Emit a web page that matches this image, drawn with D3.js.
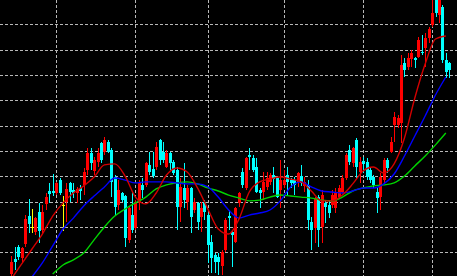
<!DOCTYPE html>
<html>
<head>
<meta charset="utf-8">
<script src="https://cdn.jsdelivr.net/npm/d3@7"></script>
<style>
  html, body { margin: 0; padding: 0; background: #000; overflow: hidden; }
  #chart { width: 457px; height: 276px; }
  svg { display: block; }
</style>
</head>
<body>
<div id="chart"></div>
<script>
////////////////////////////////////////////////////////////////////
////////////////////////////  Data  ////////////////////////////////
// one entry per bar, bar 1 is the first one on screen
const opens = [
  99.14, 99.74, 100.22, 99.76, 100.33, 101.43, 101.01, 100.81, 101.60, 100.88,
  101.91, 102.43, 102.42, 102.35, 102.85, 101.85, 102.00, 102.72, 102.46, 102.33,
  102.53, 102.66, 103.25, 103.91, 103.22, 103.58, 104.30, 103.97, 104.37, 104.04,
  102.98, 101.87, 102.33, 102.22, 100.49, 101.47, 100.95, 101.93, 102.66, 102.66,
  103.45, 103.28, 103.38, 104.43, 103.97, 103.38, 103.91, 103.58, 103.25, 101.80,
  102.53, 102.00, 102.53, 101.67, 101.93, 101.41, 102.00, 101.47, 100.42, 99.89,
  99.83, 99.46, 100.09, 101.43, 100.81, 100.42, 101.96, 103.18, 102.53, 103.84,
  103.71, 103.38, 102.46, 102.39, 102.59, 102.79, 103.05, 102.92, 102.46, 102.66,
  103.05, 102.85, 102.85, 102.79, 103.01, 102.62, 102.66, 101.21, 100.95, 102.19,
  101.01, 101.96, 101.87, 101.87, 101.75, 102.18, 102.39, 102.92, 104.04, 103.51,
  104.43, 103.18, 103.60, 103.58, 103.25, 102.98, 102.39, 102.19, 102.85, 103.64,
  103.97, 105.03, 105.03, 105.09, 107.48, 107.33, 107.62, 107.66, 107.72, 107.92,
  108.05, 108.47, 108.97, 110.08, 109.37, 109.69, 107.59, 107.46
];
const highs = [
  99.85, 100.22, 100.29, 100.22, 101.47, 102.09, 101.70, 101.41, 101.93, 101.87,
  102.35, 102.74, 103.09, 102.79, 102.93, 102.22, 102.72, 102.79, 102.74, 102.59,
  102.66, 103.32, 104.11, 104.11, 103.77, 104.11, 104.37, 104.56, 104.43, 104.11,
  103.05, 102.85, 102.39, 102.26, 101.80, 102.39, 102.06, 102.85, 102.92, 103.56,
  103.97, 103.97, 104.37, 104.46, 104.37, 104.04, 103.97, 103.64, 103.38, 102.93,
  103.51, 102.66, 102.59, 102.13, 102.00, 102.00, 102.06, 101.54, 100.68, 99.96,
  99.96, 100.09, 101.34, 101.67, 100.88, 101.80, 102.39, 103.32, 103.77, 104.11,
  103.84, 103.71, 102.53, 103.18, 103.18, 103.12, 103.38, 102.98, 103.64, 103.25,
  103.38, 102.92, 102.98, 103.18, 103.45, 102.98, 102.85, 101.41, 102.19, 102.26,
  102.46, 102.06, 102.06, 102.46, 102.54, 102.66, 103.05, 103.91, 104.24, 104.17,
  104.50, 103.77, 103.77, 103.71, 103.32, 103.05, 102.59, 103.12, 103.71, 103.71,
  104.56, 105.55, 105.42, 107.79, 107.66, 107.86, 107.99, 107.72, 108.51, 108.58,
  108.65, 108.91, 110.16, 110.27, 110.35, 109.76, 107.86, 107.52
];
const lows = [
  98.95, 99.30, 99.70, 99.59, 100.22, 100.75, 100.77, 100.68, 100.38, 100.76,
  101.67, 101.93, 102.22, 102.26, 102.26, 100.85, 101.21, 102.00, 102.14, 101.93,
  102.06, 102.26, 103.05, 103.25, 103.05, 103.38, 103.51, 103.84, 103.91, 102.19,
  101.47, 101.67, 102.00, 100.22, 100.36, 100.75, 100.88, 101.67, 102.13, 102.59,
  103.05, 102.93, 103.25, 103.45, 103.51, 103.32, 103.25, 103.05, 100.88, 101.21,
  101.75, 101.67, 100.75, 101.54, 100.88, 100.81, 101.28, 99.57, 99.17, 99.17,
  99.10, 99.10, 100.02, 100.88, 99.43, 100.36, 101.80, 102.53, 102.46, 103.25,
  103.18, 102.33, 101.74, 102.06, 102.46, 102.66, 102.33, 102.16, 101.74, 102.54,
  102.26, 102.53, 102.26, 102.59, 102.62, 102.39, 100.88, 100.09, 100.36, 100.22,
  100.36, 101.14, 101.34, 101.74, 101.55, 102.10, 102.33, 102.85, 103.45, 103.38,
  102.92, 102.72, 103.12, 102.85, 102.72, 102.53, 101.54, 101.67, 102.72, 103.12,
  103.91, 104.37, 104.89, 104.30, 106.93, 107.20, 107.33, 107.26, 107.66, 107.79,
  107.33, 108.25, 108.91, 109.30, 109.05, 107.46, 106.87, 106.87
];
const closes = [
  99.63, 99.62, 99.80, 100.16, 101.30, 101.12, 101.01, 101.34, 100.85, 101.60,
  102.19, 102.30, 102.33, 102.72, 102.35, 101.85, 102.49, 102.39, 102.35, 102.49,
  102.42, 103.18, 103.91, 103.51, 103.64, 103.91, 103.64, 104.43, 103.97, 102.79,
  101.80, 102.46, 102.06, 100.55, 101.74, 100.88, 102.00, 102.72, 102.46, 103.51,
  103.18, 103.01, 104.17, 103.64, 103.64, 103.91, 103.51, 103.12, 101.80, 102.59,
  102.06, 102.53, 101.41, 102.00, 101.21, 101.74, 101.60, 100.29, 99.76, 99.63,
  99.63, 100.01, 101.28, 101.34, 100.68, 101.74, 102.33, 102.66, 103.71, 103.77,
  103.25, 102.39, 102.33, 102.79, 102.92, 103.05, 102.88, 102.19, 102.85, 102.85,
  102.79, 102.72, 102.66, 103.12, 102.72, 102.79, 101.28, 100.88, 102.13, 100.88,
  102.26, 101.80, 101.54, 102.26, 102.38, 102.54, 102.92, 103.84, 103.58, 104.11,
  103.38, 103.58, 103.47, 102.98, 102.85, 102.66, 102.13, 102.98, 103.64, 103.32,
  104.37, 105.35, 105.29, 107.39, 107.20, 107.66, 107.86, 107.59, 108.38, 107.86,
  108.45, 108.80, 109.43, 109.43, 110.04, 107.59, 107.13, 107.20
];

// moving averages, read every third bar (null = not on screen)
const maBars = [
  1, 4, 7, 10, 13, 16, 19, 22, 25, 28, 31, 34, 37, 40, 43, 46, 49, 52, 55, 58, 61,
  64, 67, 70, 73, 76, 79, 82, 85, 88, 91, 94, 97, 100, 103, 106, 109, 112, 115,
  118, 121, 124, 127
];
const maFast = [
  98.95, 99.54, 100.13, 100.72, 101.43, 101.95, 102.34, 102.62, 102.97, 103.45,
  103.49, 103.01, 102.18, 101.91, 102.34, 103.05, 103.33, 103.17, 102.54, 101.71,
  100.92, 100.72, 101.31, 102.38, 102.78, 102.89, 102.97, 102.89, 102.78, 102.42,
  102.03, 102.03, 102.26, 102.70, 103.21, 103.37, 103.13, 103.49, 104.51, 106.09,
  107.43, 108.42, 108.54
];
const maMid = [
  null, null, 99.03, 99.58, 100.25, 100.92, 101.35, 101.83, 102.22, 102.58,
  102.93, 102.85, 102.74, 102.78, 102.78, 102.78, 102.74, 102.70, 102.70, 102.58,
  102.18, 101.67, 101.35, 101.47, 101.55, 101.67, 102.03, 102.58, 102.78, 102.58,
  102.42, 102.38, 102.34, 102.42, 102.54, 102.54, 102.70, 103.09, 103.80, 104.59,
  105.38, 106.21, 106.92
];
const maSlow = [
  null, null, null, null, 99.14, 99.50, 99.70, 99.97, 100.49, 101.00,
  101.43, 101.71, 101.95, 102.18, 102.50, 102.66, 102.74, 102.78, 102.70, 102.54,
  102.42, 102.26, 102.14, 102.03, 102.06, 102.18, 102.26, 102.22, 102.18, 102.14,
  102.06, 102.03, 102.18, 102.42, 102.54, 102.62, 102.66, 102.74, 103.01, 103.41,
  103.80, 104.24, 104.71
];

// grid: price levels and the bars where a new session starts
const gridLevels = [100, 101, 102, 103, 104, 105, 106, 107, 108, 109];
const gridBars = [14, 37, 58, 80, 103, 123];

////////////////////////////////////////////////////////////////////
////////////////////////////  Init  ////////////////////////////////
const width = 457;
const height = 276;

const svg = d3
  .select("#chart")
  .append("svg")
  .attr("width", width)
  .attr("height", height);

svg.append("rect").attr("width", width).attr("height", height).attr("fill", "#000");

const bars = opens.map((o, i) => ({
  bar: i + 1,
  open: o,
  high: highs[i],
  low: lows[i],
  close: closes[i],
}));

// scales
const xScale = d3.scaleLinear().domain([1, bars.length]).range([11.3, 449.3]);
const yScale = d3.scaleLinear().domain([100, 109]).range([252.3, 24.3]);

const candleColor = (d) =>
  d.close > d.open ? "#ff0000" : d.close < d.open ? "#00ffff" : "#ffff00";

////////////////////////////////////////////////////////////////////
////////////////////////////  Grid  ////////////////////////////////
const grid = svg
  .append("g")
  .attr("stroke", "#b8b8b8")
  .attr("stroke-width", 1)
  .attr("stroke-dasharray", "3,2")
  .attr("shape-rendering", "crispEdges");

grid
  .selectAll("line.h")
  .data(gridLevels)
  .enter()
  .append("line")
  .attr("class", "h")
  .attr("x1", 0)
  .attr("x2", width)
  .attr("y1", (d) => Math.round(yScale(d)) + 0.5)
  .attr("y2", (d) => Math.round(yScale(d)) + 0.5);

grid
  .selectAll("line.v")
  .data(gridBars)
  .enter()
  .append("line")
  .attr("class", "v")
  .attr("y1", 0)
  .attr("y2", height)
  .attr("x1", (d) => Math.round(xScale(d)) + 0.5)
  .attr("x2", (d) => Math.round(xScale(d)) + 0.5);

////////////////////////////////////////////////////////////////////
////////////////////////////  Candles  /////////////////////////////
const candles = svg
  .append("g")
  .attr("shape-rendering", "crispEdges")
  .selectAll("g")
  .data(bars)
  .enter()
  .append("g");

candles
  .append("line")
  .attr("x1", (d) => Math.round(xScale(d.bar)) + 0.5)
  .attr("x2", (d) => Math.round(xScale(d.bar)) + 0.5)
  .attr("y1", (d) => yScale(d.high))
  .attr("y2", (d) => yScale(d.low))
  .attr("stroke", candleColor);

candles
  .append("rect")
  .attr("x", (d) => Math.round(xScale(d.bar)) - 1)
  .attr("y", (d) => yScale(Math.max(d.open, d.close)))
  .attr("width", 3)
  .attr("height", (d) =>
    Math.max(1, Math.abs(yScale(d.open) - yScale(d.close)))
  )
  .attr("fill", candleColor);

////////////////////////////////////////////////////////////////////
////////////////////////////  Moving averages  /////////////////////
const maLine = d3
  .line()
  .x((d) => xScale(d.bar))
  .y((d) => yScale(d.v))
  .curve(d3.curveMonotoneX);

const maSeries = [
  { values: maSlow, color: "#00d200" },
  { values: maMid, color: "#0000ff" },
  { values: maFast, color: "#d20000" },
];

svg
  .selectAll("path.ma")
  .data(maSeries)
  .enter()
  .append("path")
  .attr("class", "ma")
  .attr("fill", "none")
  .attr("stroke", (d) => d.color)
  .attr("stroke-width", 1.4)
  .attr("d", (d) =>
    maLine(
      d.values
        .map((v, i) => ({ bar: maBars[i], v: v }))
        .filter((p) => p.v !== null)
    )
  );
</script>
</body>
</html>
